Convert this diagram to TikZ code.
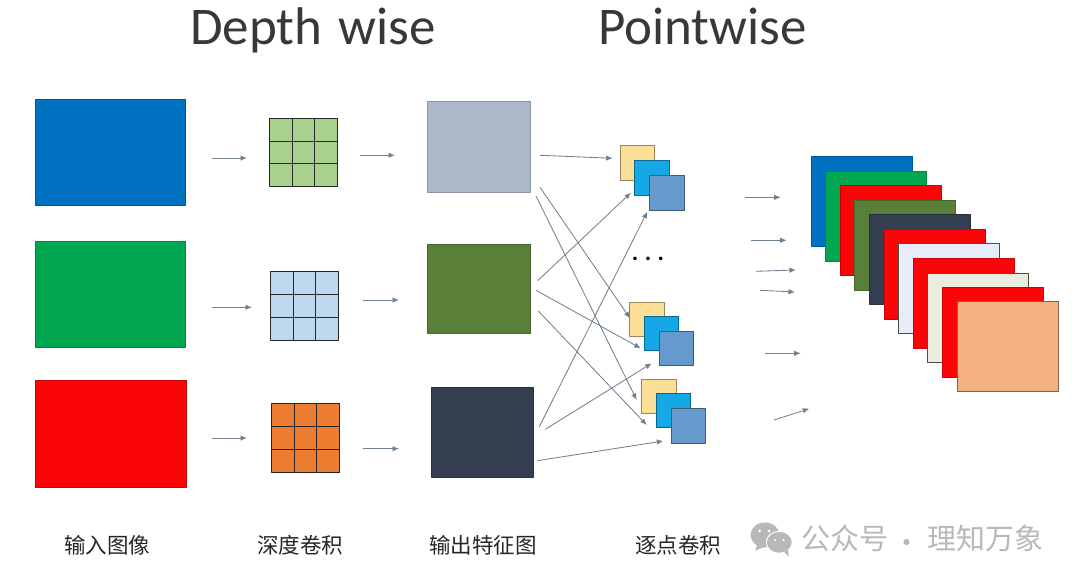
\documentclass[tikz,border=0pt]{standalone}
\usepackage{fontspec}
\setmainfont{Carlito}
\newfontfamily\cjk{Noto Sans CJK SC}
\usetikzlibrary{positioning,calc,arrows.meta}
\definecolor{c_blue}{HTML}{0070C0}
\definecolor{c_green}{HTML}{00A650}
\definecolor{c_red}{HTML}{FA0508}
\definecolor{c_gray}{HTML}{ADB9CA}
\definecolor{c_olive}{HTML}{5A7F38}
\definecolor{c_dark}{HTML}{333F50}
\definecolor{c_gridgreen}{HTML}{A9D18E}
\definecolor{c_gridblue}{HTML}{BDD7EE}
\definecolor{c_gridorange}{HTML}{ED7D31}
\definecolor{c_yellow}{HTML}{FBDF96}
\definecolor{c_cyan}{HTML}{14A8E6}
\definecolor{c_steel}{HTML}{6699CC}
\definecolor{c_lav}{HTML}{E6ECF8}
\definecolor{c_cream}{HTML}{EBEBE0}
\definecolor{c_peach}{HTML}{F4B183}
\definecolor{c_arrow}{HTML}{71818F}
\definecolor{c_stamp}{HTML}{B8B8B8}
\tikzset{
  sheet/.style={fill=#1,draw=#1!80!black,line width=.8bp,inner sep=0pt},
  wired/.style={sheet=#1,draw=black!85,line width=1.2bp,
    path picture={
      \draw [black!85,line width=1.2bp]
        ($(path picture bounding box.north west)!.333!(path picture bounding box.north east)$) --
        ($(path picture bounding box.south west)!.333!(path picture bounding box.south east)$)
        ($(path picture bounding box.north west)!.667!(path picture bounding box.north east)$) --
        ($(path picture bounding box.south west)!.667!(path picture bounding box.south east)$)
        ($(path picture bounding box.north west)!.333!(path picture bounding box.south west)$) --
        ($(path picture bounding box.north east)!.333!(path picture bounding box.south east)$)
        ($(path picture bounding box.north west)!.667!(path picture bounding box.south west)$) --
        ($(path picture bounding box.north east)!.667!(path picture bounding box.south east)$);
    }},
  tiny_sq/.style={sheet=#1,draw=#1!60!black,line width=1bp,minimum width=34.5bp,minimum height=34.5bp},
  stack_sq/.style={sheet=#1,minimum width=101bp,minimum height=90bp},
  flow/.style={c_arrow,line width=.85bp,->},
  title/.style={anchor=base west,inner sep=0pt,font=\fontsize{53bp}{60bp}\selectfont,text=black!78},
  caption/.style={inner sep=0pt,font=\cjk\fontsize{21.5bp}{26bp}\selectfont,text=black!85},
  stamp/.style={inner sep=0pt,font=\cjk\fontsize{29bp}{34bp}\selectfont,text=c_stamp},
}
\begin{document}
\begin{tikzpicture}[>={Latex[length=6.5bp,width=5.5bp]},line join=bevel,]
\useasboundingbox (0bp,0bp) rectangle (1080bp,582bp);
%% titles
\node (title_depth) at (190bp,537bp) [title] {Depth\kern4.5bp\ wise};
\node (title_point) at (598bp,537bp) [title] {Pointwise};
%% input images
\node (input_0) at (110.5bp,429.5bp) [sheet=c_blue,minimum width=150bp,minimum height=106bp] {};
\node (input_1) at (110.5bp,287.5bp) [sheet=c_green,minimum width=150bp,minimum height=106bp] {};
\node (input_2) at (111bp,148bp) [sheet=c_red,minimum width=151bp,minimum height=107bp] {};
%% depth wise kernels
\node (kernel_0) at (303.5bp,429.5bp) [wired=c_gridgreen,inner sep=0pt,minimum width=68bp,minimum height=68bp] {};
\node (kernel_1) at (304.5bp,276bp) [wired=c_gridblue,inner sep=0pt,minimum width=68bp,minimum height=69bp] {};
\node (kernel_2) at (305.5bp,144bp) [wired=c_gridorange,inner sep=0pt,minimum width=68bp,minimum height=69bp] {};
%% output maps
\node (output_0) at (479bp,435bp) [sheet=c_gray,minimum width=103bp,minimum height=91bp] {};
\node (output_1) at (479bp,293bp) [sheet=c_olive,minimum width=103bp,minimum height=89bp] {};
\node (output_2) at (482.5bp,149.5bp) [sheet=c_dark,minimum width=102bp,minimum height=90bp] {};
%% point wise kernels
\node (point_0a) at (637.3bp,418.8bp) [tiny_sq=c_yellow] {};
\node (point_0b) at (652bp,404bp) [tiny_sq=c_cyan] {};
\node (point_0c) at (666.8bp,389.2bp) [tiny_sq=c_steel] {};
\node (point_1a) at (646.8bp,262.6bp) [tiny_sq=c_yellow] {};
\node (point_1b) at (661.5bp,248.3bp) [tiny_sq=c_cyan] {};
\node (point_1c) at (676.6bp,233.5bp) [tiny_sq=c_steel] {};
\node (point_2a) at (658.8bp,185.5bp) [tiny_sq=c_yellow] {};
\node (point_2b) at (673.7bp,171.3bp) [tiny_sq=c_cyan] {};
\node (point_2c) at (688.5bp,156.2bp) [tiny_sq=c_steel] {};
\node (dots) at (648bp,323bp) [inner sep=0pt,font=\fontsize{24bp}{26bp}\selectfont\bfseries] {.\kern6.5bp.\kern6.5bp.};
%% result stack
\node (stack_0) at (861.7bp,381bp) [stack_sq=c_blue] {};
\node (stack_1) at (876bp,366bp) [stack_sq=c_green] {};
\node (stack_2) at (890.7bp,351.8bp) [stack_sq=c_red] {};
\node (stack_3) at (905.2bp,337bp) [stack_sq=c_olive] {};
\node (stack_4) at (920bp,322.8bp) [stack_sq=c_dark] {};
\node (stack_5) at (934.7bp,308bp) [stack_sq=c_red] {};
\node (stack_6) at (949.3bp,293.1bp) [sheet=c_lav,draw=black!70,minimum width=101bp,minimum height=90bp] {};
\node (stack_7) at (963.8bp,278.7bp) [stack_sq=c_red] {};
\node (stack_8) at (978.3bp,264.3bp) [sheet=c_cream,draw=black!70,minimum width=101bp,minimum height=89bp] {};
\node (stack_9) at (992.8bp,249.5bp) [stack_sq=c_red] {};
\node (stack_10) at (1007.5bp,235.2bp) [sheet=c_peach,draw=c_peach!55!black,minimum width=101bp,minimum height=90bp] {};
%% arrows, first two columns
\coordinate (s_0) at (211.7bp,424bp);   \coordinate (e_0) at (247bp,424bp);
\coordinate (s_1) at (212bp,274.7bp);   \coordinate (e_1) at (252bp,274.7bp);
\coordinate (s_2) at (212bp,144bp);     \coordinate (e_2) at (247bp,144bp);
\coordinate (s_3) at (360bp,426.7bp);   \coordinate (e_3) at (395bp,426.7bp);
\coordinate (s_4) at (363bp,282bp);     \coordinate (e_4) at (399bp,282bp);
\coordinate (s_5) at (363bp,133.3bp);   \coordinate (e_5) at (399bp,133.3bp);
\draw [flow] (s_0) -- (e_0);
\draw [flow] (s_1) -- (e_1);
\draw [flow] (s_2) -- (e_2);
\draw [flow] (s_3) -- (e_3);
\draw [flow] (s_4) -- (e_4);
\draw [flow] (s_5) -- (e_5);
%% arrows, crossing
\coordinate (s_6) at (540bp,426.7bp);    \coordinate (e_6) at (612.7bp,423.7bp);
\coordinate (s_7) at (540bp,394.7bp);    \coordinate (e_7) at (630bp,263.7bp);
\coordinate (s_8) at (536bp,386bp);      \coordinate (e_8) at (636.7bp,182bp);
\coordinate (s_9) at (537.7bp,301.3bp);  \coordinate (e_9) at (631bp,389.3bp);
\coordinate (s_10) at (536bp,291.7bp);   \coordinate (e_10) at (640.7bp,233.7bp);
\coordinate (s_11) at (538.3bp,271bp);   \coordinate (e_11) at (646.7bp,157bp);
\coordinate (s_12) at (539.3bp,155.3bp); \coordinate (e_12) at (647.3bp,370.3bp);
\coordinate (s_13) at (545.3bp,152.7bp); \coordinate (e_13) at (651.7bp,218.7bp);
\coordinate (s_14) at (537.3bp,121.3bp); \coordinate (e_14) at (663.3bp,141bp);
\draw [flow] (s_6) -- (e_6);
\draw [flow] (s_7) -- (e_7);
\draw [flow] (s_8) -- (e_8);
\draw [flow] (s_9) -- (e_9);
\draw [flow] (s_10) -- (e_10);
\draw [flow] (s_11) -- (e_11);
\draw [flow] (s_12) -- (e_12);
\draw [flow] (s_13) -- (e_13);
\draw [flow] (s_14) -- (e_14);
%% arrows, before the stack
\coordinate (s_15) at (745bp,384.7bp);   \coordinate (e_15) at (780.7bp,384.7bp);
\coordinate (s_16) at (751bp,341.7bp);   \coordinate (e_16) at (786.7bp,341.7bp);
\coordinate (s_17) at (756bp,310.7bp);   \coordinate (e_17) at (796bp,312bp);
\coordinate (s_18) at (760bp,291.7bp);   \coordinate (e_18) at (795bp,290bp);
\coordinate (s_19) at (765bp,228.7bp);   \coordinate (e_19) at (800.7bp,228.7bp);
\coordinate (s_20) at (774bp,162bp);     \coordinate (e_20) at (809.3bp,173.3bp);
\draw [flow] (s_15) -- (e_15);
\draw [flow] (s_16) -- (e_16);
\draw [flow] (s_17) -- (e_17);
\draw [flow] (s_18) -- (e_18);
\draw [flow] (s_19) -- (e_19);
\draw [flow] (s_20) -- (e_20);
%% captions
\node (cap_0) at (107bp,37bp) [caption] {输入图像};
\node (cap_1) at (300bp,37bp) [caption] {深度卷积};
\node (cap_2) at (483bp,37bp) [caption] {输出特征图};
\node (cap_3) at (678bp,37bp) [caption] {逐点卷积};
%% stamp
\fill [c_stamp] (765bp,47bp) ellipse (14.5bp and 12.5bp);
\fill [c_stamp] (757bp,37bp) -- (755bp,31bp) -- (764bp,35bp) -- cycle;
\fill [c_stamp,draw=white,line width=1bp] (779.3bp,39.7bp) ellipse (13bp and 11bp);
\fill [c_stamp] (784bp,30bp) -- (789bp,25.5bp) -- (788bp,32bp) -- cycle;
\fill [white] (759.5bp,51bp) circle (1.5bp) (769bp,51bp) circle (1.5bp) (775bp,42bp) circle (1.2bp) (783.5bp,42bp) circle (1.2bp);
\node (stamp_0) at (845bp,43.5bp) [stamp] {公众号};
\node (stamp_1) at (907bp,36bp) [stamp] {·};
\node (stamp_2) at (985bp,43.5bp) [stamp] {理知万象};
%
\end{tikzpicture}
\end{document}
